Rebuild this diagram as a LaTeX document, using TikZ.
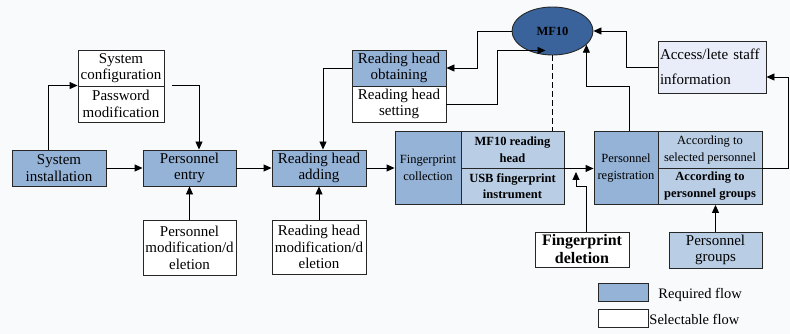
\documentclass[tikz,border=0pt]{standalone}
\usepackage{fontspec}
\setmainfont{Liberation Serif}
\usetikzlibrary{arrows.meta,shapes.geometric}
\definecolor{reqblue}{HTML}{95B3D7}
\definecolor{liteblue}{HTML}{B9CDE5}
\definecolor{accfill}{HTML}{E9EDF9}
\definecolor{mfblue}{HTML}{3A639C}
\definecolor{bgcol}{HTML}{F9FAFC}
\begin{document}
\begin{tikzpicture}[x=1pt,y=-1pt, >={Triangle[length=8pt,width=7pt]}, line width=0.9pt,
  every node/.style={inner sep=0pt, align=center, font=\fontsize{15}{16.5}\selectfont},
  reqbox/.style={draw=black!85, fill=reqblue, minimum height=36pt},
  optbox/.style={draw=black!85, fill=white, minimum height=36pt},
  subbox/.style={draw=black!85, fill=liteblue, minimum width=104pt, minimum height=36.5pt, smalltxt},
  smalltxt/.style={font=\fontsize{12.5}{16.5}\selectfont}]
 \fill[bgcol] (0,0) rectangle (790,334);
 \node[reqbox, minimum width=94pt] (inst) at (59,168) {System\\installation};
 \node[reqbox, minimum width=93pt] (entry) at (189.5,168) {Personnel\\entry};
 \node[optbox, minimum width=86pt] (cfg) at (121,68) {System\\configuration};
 \node[optbox, minimum width=86pt] (pwd) at (121,104) {Password\\modification};
 \node[optbox, minimum width=93pt, minimum height=55pt] (pmod) at (189.5,247.5) {Personnel\\modification/d\\eletion};
 \node[reqbox, minimum width=94pt] (obt) at (399,68) {Reading head\\obtaining};
 \node[optbox, minimum width=94pt] (rset) at (399,104) {Reading head\\setting};
 \node[reqbox, minimum width=94pt] (radd) at (319,168) {Reading head\\adding};
 \node[optbox, minimum width=94pt, minimum height=54pt] (rmod) at (319,247) {Reading head\\modification/d\\eletion};
 \node[reqbox, minimum width=66pt, minimum height=73pt, smalltxt] (fpc) at (428,168) {Fingerprint\\collection};
 \node[subbox, minimum width=103pt] (mf) at (512.5,149.75) {\bfseries MF10 reading\\\bfseries head};
 \node[subbox, minimum width=103pt] (usb) at (512.5,186.25) {\bfseries USB fingerprint\\\bfseries instrument};
 \node[draw=black!85, ellipse, fill=mfblue, minimum width=81pt, minimum height=48pt,
   font=\fontsize{12.5}{14}\selectfont\bfseries] (mf10) at (552.5,31) {MF10};
 \node[reqbox, minimum width=64pt, minimum height=73pt, smalltxt] (reg) at (626,168) {Personnel\\registration};
 \node[subbox] (sel) at (710,149.75) {According to\\selected personnel};
 \node[subbox] (grp) at (710,186.25) {\bfseries According to\\\bfseries personnel groups};
 \node[draw=black!85, fill=accfill, minimum width=108pt, minimum height=52pt, text width=104pt,
   align=left, font=\fontsize{15}{25}\selectfont] (acc) at (712,67) {Access/lete staff\\information};
 \node[optbox, minimum width=94pt, minimum height=35pt, font=\fontsize{16}{18}\selectfont\bfseries] (fdel) at (582,249.5) {Fingerprint\\deletion};
 \node[draw=black!85, fill=liteblue, minimum width=93pt, minimum height=36pt] (pgrp) at (715.5,250) {Personnel\\groups};
 \node[draw=black!85, fill=reqblue, minimum width=50pt, minimum height=18pt] (keyreq) at (623,292) {};
 \node[anchor=base west, font=\fontsize{14.5}{16}\selectfont] (keyreqtxt) at (658,298) {Required flow};
 \node[draw=black!85, fill=white, minimum width=50pt, minimum height=18pt] (keyopt) at (623,318) {};
 \node[anchor=base west, font=\fontsize{14.5}{16}\selectfont] (keyopttxt) at (649,324) {Selectable flow};
 \draw[->] (inst) -- (entry);
 \draw[->] ([xshift=-11pt]inst.north) |- (pwd.north west);
 \draw[->] ([xshift=8pt]pwd.north east) -| ([xshift=9.5pt]entry.north);
 \draw[->] (pmod) -- (entry);
 \draw[->] (entry) -- (radd);
 \draw[->] (obt.west) -| ([xshift=4pt]radd.north);
 \draw[->] (rmod) -- (radd);
 \draw[->] (radd) -- (fpc);
 \draw[->] (mf10.west) -- ++(-34,0) |- (obt.east);
 \draw[->] (rset.east) -- ++(51,0) |- ([xshift=-7pt,yshift=5pt]mf10.south);
 \draw[dash pattern=on 6pt off 3pt] (mf10.south) -- (mf10.south |- mf.north);
 \draw[->] (mf.south east) -- (mf.south east -| reg.west);
 \coordinate (fdtip) at (576,172);
 \draw[->] ([xshift=4pt]fdel.north) -- ++(0,-45) -| (fdtip);
 \draw[->] ([xshift=3pt]reg.north) -- ++(0,-45) -| (mf10.-22);
 \draw[->] (acc.west) -- ++(-31,0) |- (mf10.east);
 \draw[->] (sel.south east) -- ++(26,0) |- ([yshift=-10pt]acc.east);
 \draw[->] (pgrp.north) -- (pgrp.north |- grp.south);
\end{tikzpicture}
\end{document}
